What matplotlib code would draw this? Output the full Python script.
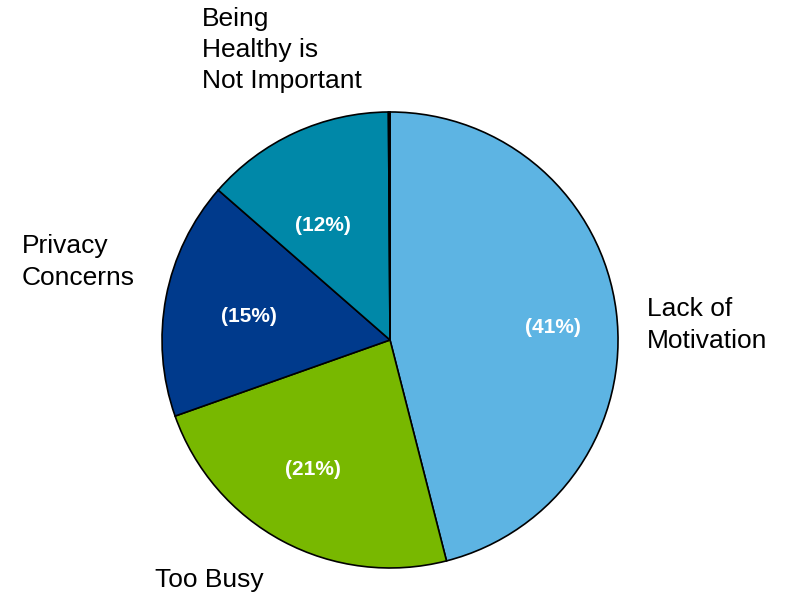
import numpy as np
import matplotlib.pyplot as plt

plt.rcParams['font.family'] = ['Liberation Sans', 'DejaVu Sans']

# data
categories = ["Lack of\nMotivation", "Too Busy", "Privacy\nConcerns",
              "Being\nHealthy is\nNot Important", ""]
values = [41, 21, 15, 12, 0.1]
pct_labels = ["(41%)", "(21%)", "(15%)", "(12%)", ""]
colors = ["#5DB4E3", "#78B800", "#003A8C", "#0088A8", "#000000"]

fig = plt.figure(figsize=(7.85, 5.95), dpi=100)
ax = fig.add_axes([0.2064, 0.0454, 0.5809, 0.7664])

wedges, _ = ax.pie(values, colors=colors, startangle=90, counterclock=False,
                   radius=1.0, wedgeprops=dict(edgecolor="black", linewidth=1.2))
ax.set_xlim(-1, 1)
ax.set_ylim(-1, 1)
ax.set_aspect("equal")
ax.axis("off")

# percentage labels inside the wedges
pct_pos = [(0.715, 0.053), (-0.338, -0.57), (-0.618, 0.105), (-0.294, 0.504)]
for lab, (x, y) in zip(pct_labels, pct_pos):
    ax.text(x, y, lab, color="white",
            fontsize=15, fontweight="bold", ha="center", va="center")

# category labels outside
label_pos = [(1.127, 0.066), (-1.03, -1.053), (-1.614, 0.342), (-0.825, 1.272)]
for lab, (x, y) in zip(categories, label_pos):
    ax.text(x, y, lab, fontsize=19, ha="left", va="center",
            linespacing=1.38, clip_on=False)

fig.savefig("out.png", dpi=100)
